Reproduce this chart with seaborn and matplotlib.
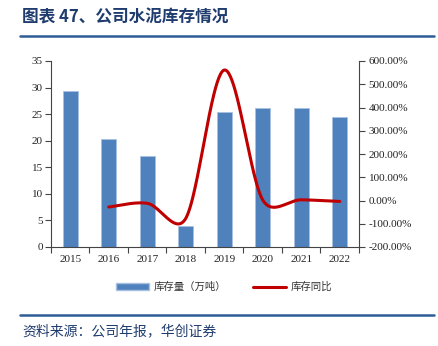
import numpy as np
import pandas as pd
import matplotlib
matplotlib.use("Agg")
import matplotlib.pyplot as plt
from matplotlib.patches import Patch
from matplotlib.lines import Line2D
import matplotlib.ticker as mticker
import seaborn as sns

# Data
years = ["2015", "2016", "2017", "2018", "2019", "2020", "2021", "2022"]
stock = [29.3, 20.3, 17.2, 3.9, 25.4, 26.1, 26.2, 24.4]          # 库存量（万吨）
yoy_years = ["2016", "2017", "2018", "2019", "2020", "2021", "2022"]
yoy = [-28.0, -12.0, -77.0, 561.0, 2.0, 3.0, -4.0]               # 库存同比 (%)

sns.set_theme(style="white")
plt.rcParams["font.family"] = ["Liberation Serif", "Noto Sans CJK SC", "DejaVu Sans"]

W, H = 439, 346
fig = plt.figure(figsize=(W / 100, H / 100), dpi=100)

# axes box in pixels: left 51, right 359, top 61, bottom 247
L, R, T, B = 51, 359, 61, 247
ax = fig.add_axes([L / W, 1 - B / H, (R - L) / W, (B - T) / H])

df = pd.DataFrame({"year": years, "stock": stock})
sns.barplot(data=df, x="year", y="stock", ax=ax, color="#4F81BD",
            saturation=1, width=0.4, edgecolor="#A9C1E0", linewidth=0.6)
ax.set_xlim(-0.5, len(years) - 0.5)
ax.set_ylim(0, 35)
ax.set_yticks(np.arange(0, 36, 5))
ax.set_xlabel("")
ax.set_ylabel("")

# category-boundary ticks on x
ax.set_xticks(np.arange(len(years)))
ax.set_xticklabels(years)
ax.xaxis.set_minor_locator(mticker.FixedLocator(np.arange(-0.5, len(years), 1)))
ax.tick_params(axis="x", which="major", length=0, pad=6, labelsize=8, colors="#222222")
ax.tick_params(axis="x", which="minor", length=4, width=0.8, color="#444444", direction="out", bottom=True)
ax.tick_params(axis="y", length=4, width=0.8, color="#444444", direction="out", left=True,
               labelsize=8, labelcolor="#222222", pad=2)
for s in ["top", "right"]:
    ax.spines[s].set_visible(False)
for s in ["left", "bottom"]:
    ax.spines[s].set_color("#444444")
    ax.spines[s].set_linewidth(0.8)

# secondary axis for the year-on-year line
ax2 = ax.twinx()
ax2.set_xlim(-0.5, len(years) - 0.5)
ax2.set_ylim(-200, 600)
ax2.set_yticks(np.arange(-200, 601, 100))
ax2.yaxis.set_major_formatter(mticker.FuncFormatter(lambda v, p: f"{v:.2f}%"))
ax2.tick_params(axis="y", length=4, width=0.8, color="#444444", direction="out", right=True,
                labelsize=8, labelcolor="#222222", pad=3)
for s in ["top", "left", "bottom"]:
    ax2.spines[s].set_visible(False)
ax2.spines["right"].set_color("#444444")
ax2.spines["right"].set_linewidth(0.8)
ax2.grid(False)
ax.grid(False)


def smooth_curve(points, trans, steps=50):
    """Spreadsheet-style smoothed line: cubic Bezier segments whose control
    arms are limited to half the segment length (computed in display space)."""
    P = trans.transform(points)
    n = len(P)
    dist = lambda a, b: float(np.hypot(*(P[a] - P[b])))
    out = []
    for i in range(n - 1):
        i0 = max(i - 1, 0)
        i3 = min(i + 2, n - 1)
        p0, p1, p2, p3 = P[i0], P[i], P[i + 1], P[i3]
        d12 = dist(i, i + 1)
        d02 = dist(i0, i + 1)
        d13 = dist(i, i3)
        f0 = 1 / 6 if d02 / 6 < d12 / 2 else d12 / d02 / 2
        f1 = 1 / 6 if d13 / 6 < d12 / 2 else d12 / d13 / 2
        c1 = p1 + f0 * (p2 - p0)
        c2 = p2 - f1 * (p3 - p1)
        t = np.linspace(0, 1, steps)[:, None]
        seg = ((1 - t) ** 3) * p1 + 3 * ((1 - t) ** 2) * t * c1 \
            + 3 * (1 - t) * t ** 2 * c2 + t ** 3 * p2
        out.append(seg if i == 0 else seg[1:])
    return trans.inverted().transform(np.vstack(out))


xs = np.array([years.index(y) for y in yoy_years], dtype=float)
pts = np.column_stack([xs, np.array(yoy, dtype=float)])
curve = smooth_curve(pts, ax2.transData)
sns.lineplot(x=curve[:, 0], y=curve[:, 1], ax=ax2, color="#C00000", linewidth=2.2,
             sort=False, estimator=None)

# legend
handles = [Patch(facecolor="#4F81BD", edgecolor="#A9C1E0", label="库存量（万吨）"),
           Line2D([0], [0], color="#C00000", linewidth=2.2, label="库存同比")]
leg = fig.legend(handles=handles, loc="center", bbox_to_anchor=(224 / W, 1 - 287 / H),
                 ncol=2, frameon=False, prop={"family": ["Noto Sans CJK SC"], "size": 7.5},
                 handlelength=3.2, handleheight=0.6, columnspacing=2.6, handletextpad=0.4)
for t in leg.get_texts():
    t.set_color("#333333")

# title and rules
title_color = "#1F3C6E"
fig.text(22 / W, 1 - 17 / H, "图表 47、公司水泥库存情况", ha="left", va="center",
         fontsize=12, fontweight="bold", color=title_color,
         family=["Noto Sans CJK SC", "DejaVu Sans"])
rule_color = "#2F5C97"
fig.add_artist(Line2D([20 / W, 434 / W], [1 - 35.7 / H, 1 - 35.7 / H], color=rule_color,
                      linewidth=1.8, transform=fig.transFigure))
fig.add_artist(Line2D([20 / W, 434 / W], [1 - 314.7 / H, 1 - 314.7 / H], color=rule_color,
                      linewidth=1.8, transform=fig.transFigure))
fig.text(22 / W, 1 - 331 / H, "资料来源：公司年报，华创证券", ha="left", va="center",
         fontsize=10, style="italic", color="#1F3C6E",
         family=["Noto Sans CJK SC", "DejaVu Sans"])

fig.savefig("out.png", dpi=100)
